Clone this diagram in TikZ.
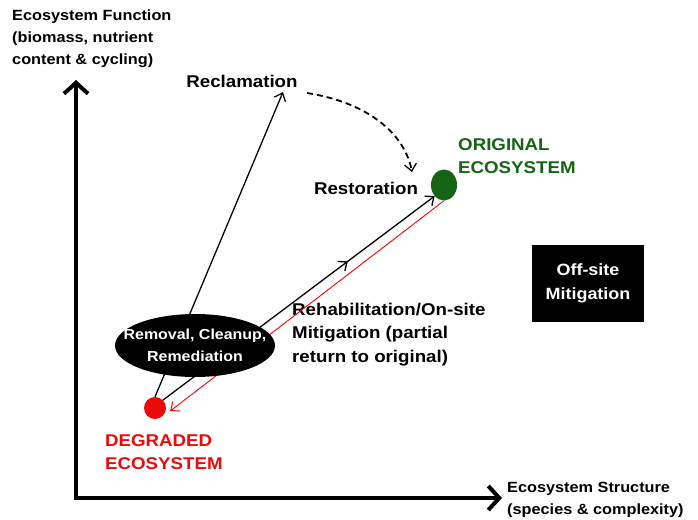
\documentclass[tikz,border=0pt]{standalone}
\usepackage{fontspec}
\setmainfont{Liberation Sans}
\newfontfamily\lbfont[FakeStretch=1.1]{Liberation Sans Bold}
\usetikzlibrary{arrows.meta,shapes.geometric,decorations.markings,positioning}
\definecolor{dgreen}{RGB}{20,100,20}
\definecolor{dred}{RGB}{235,10,10}
\begin{document}
\begin{tikzpicture}[x=1pt,y=-1pt,
  lbl/.style={font=\lbfont\fontsize{17}{23.3}\selectfont, align=left, inner sep=0pt},
  axlbl/.style={font=\lbfont\fontsize{14.8}{21.7}\selectfont, align=left, inner sep=0pt},
  inlbl/.style={font=\lbfont\fontsize{14.5}{22.5}\selectfont, align=center, inner sep=0pt, text=white, fill=black},
  axis/.style={line width=4.5pt, -{Straight Barb[length=11pt,width=24pt,line width=4pt]}},
  conn/.style={line width=1.3pt, -{Straight Barb[length=7pt,width=12pt,line width=1.3pt]}},
  midarrow/.style={postaction={decorate},decoration={markings, mark=at position #1 with {\arrow{Straight Barb[length=7pt,width=12pt,line width=1.3pt]}}}}
]
\useasboundingbox (0,0) rectangle (698,519);
\fill[white] (0,0) rectangle (698,519);

% axes
\coordinate (ytip) at (76,80);
\coordinate (xtip) at (502,498);
\draw[axis] (76,500) -- (ytip);
\draw[axis] (74,498) -- (xtip);

\node[axlbl, anchor=north west] (ylab) at (12,10) {Ecosystem Function\\(biomass, nutrient\\content \& cycling)};
\node[axlbl, anchor=north west] (xlab) at (507,482) {Ecosystem Structure\\(species \& complexity)};

% points
\node[circle, fill=dred, minimum size=22pt, inner sep=0pt] (deg) at (155,408) {};
\node[ellipse, fill=dgreen, minimum width=26pt, minimum height=31pt, inner sep=0pt] (orig) at (444,185) {};
\node[lbl, text=dred, anchor=north west] (deglab) at (105,434) {DEGRADED\\ECOSYSTEM};
\node[lbl, text=dgreen, anchor=north west] (origlab) at (458,138) {ORIGINAL\\ECOSYSTEM};

% labels
\node[lbl] (recl) at (242,81) {Reclamation};
\coordinate (recltip) at (283,92);
\node[lbl] (rest) at (366,188) {Restoration};
\node[lbl, anchor=north west] (rehab) at (292,303) {Rehabilitation/On-site\\Mitigation (partial\\return to original)};

% connectors
\draw[conn] (deg.north) -- (recltip);
\draw[conn, dashed, dash pattern=on 6pt off 4pt, line width=1.8pt] (307,93) .. controls (370,103) and (405,135) .. (412,172);
\draw[red, line width=0.9pt, -{Straight Barb[length=7pt,width=12pt,line width=1pt]}] (orig.south) -- ([xshift=4pt,yshift=-3pt]deg.east);
\draw[conn, midarrow=0.68] (deg.north east) -- (orig.south west);

% black ellipse
\node[ellipse, fill=black, minimum width=160pt, minimum height=63pt, inner sep=0pt] (rem) at (195,345.5) {};
\node[inlbl, fill=none] (remtxt) at (rem.center) {Removal, Cleanup,\\Remediation};

% off-site box
\node[inlbl, font=\lbfont\fontsize{16.3}{24}\selectfont, minimum width=112pt, minimum height=77pt] (off) at (588,283.5) {Off-site\\Mitigation};
\end{tikzpicture}
\end{document}
